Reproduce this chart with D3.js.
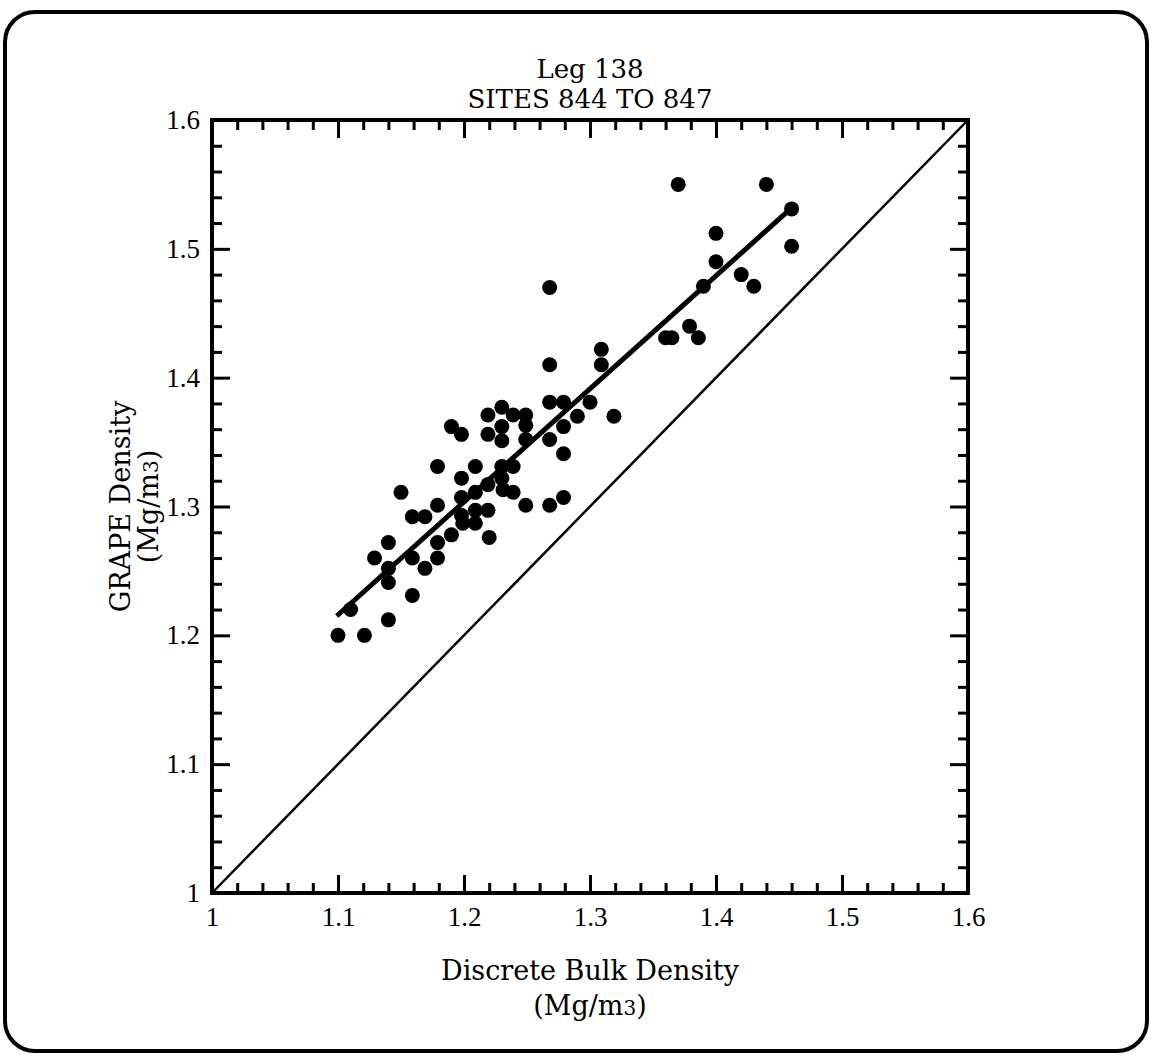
<!DOCTYPE html>
<html>
<head>
<meta charset="utf-8">
<script src="https://cdn.jsdelivr.net/npm/d3@7"></script>
<style>
  html, body { margin: 0; padding: 0; background: #fff; }
  svg { display: block; }
  text { font-family: "DejaVu Serif", "Liberation Serif", serif; fill: #000; }
</style>
</head>
<body>
<div id="chart"></div>
<script>
// Discrete bulk density vs GRAPE density, Leg 138 sites 844-847
const bulkDensity = [
  1.100, 1.121, 1.110, 1.140, 1.159, 1.140, 1.140, 1.129, 1.140, 1.169,
  1.159, 1.179, 1.179, 1.190, 1.220, 1.199, 1.209, 1.198, 1.209, 1.219,
  1.159, 1.169, 1.150, 1.179, 1.198, 1.209, 1.219, 1.231, 1.239, 1.198,
  1.230, 1.179, 1.209, 1.230, 1.239, 1.190, 1.198, 1.219, 1.230, 1.230,
  1.219, 1.230, 1.239, 1.249, 1.249, 1.249, 1.249, 1.268, 1.279, 1.279,
  1.268, 1.279, 1.290, 1.319, 1.268, 1.279, 1.300, 1.268, 1.309, 1.309,
  1.268, 1.360, 1.365, 1.386, 1.379, 1.390, 1.430, 1.420, 1.400, 1.400,
  1.460, 1.460, 1.370, 1.440
];
const grapeDensity = [
  1.200, 1.200, 1.220, 1.212, 1.231, 1.241, 1.252, 1.260, 1.272, 1.252,
  1.260, 1.260, 1.272, 1.278, 1.276, 1.287, 1.287, 1.293, 1.297, 1.297,
  1.292, 1.292, 1.311, 1.301, 1.307, 1.311, 1.317, 1.313, 1.311, 1.322,
  1.322, 1.331, 1.331, 1.331, 1.331, 1.362, 1.356, 1.356, 1.362, 1.351,
  1.371, 1.377, 1.371, 1.371, 1.363, 1.352, 1.301, 1.301, 1.307, 1.341,
  1.352, 1.362, 1.370, 1.370, 1.381, 1.381, 1.381, 1.410, 1.410, 1.422,
  1.470, 1.431, 1.431, 1.431, 1.440, 1.471, 1.471, 1.480, 1.490, 1.512,
  1.502, 1.531, 1.550, 1.550
];

// regression line end points and the 1:1 line
const fitLine = [[1.099, 1.215], [1.458, 1.530]];
const oneToOne = [[1.0, 1.0], [1.6, 1.6]];

const majorTicks = [1.0, 1.1, 1.2, 1.3, 1.4, 1.5, 1.6];
const minorTicks = [1.02, 1.04, 1.06, 1.08, 1.12, 1.14, 1.16, 1.18, 1.22, 1.24, 1.26, 1.28,
  1.32, 1.34, 1.36, 1.38, 1.42, 1.44, 1.46, 1.48, 1.52, 1.54, 1.56, 1.58];

const W = 1151, H = 1056;
const plot = { left: 212, right: 968, top: 120, bottom: 893 };

const svg = d3.select("#chart").append("svg")
  .attr("width", W)
  .attr("height", H);

// rounded outer frame
svg.append("rect")
  .attr("x", 5).attr("y", 12)
  .attr("width", W - 9).attr("height", H - 17)
  .attr("rx", 30).attr("ry", 30)
  .attr("fill", "none")
  .attr("stroke", "#000")
  .attr("stroke-width", 4);

const x = d3.scaleLinear().domain([1, 1.6]).range([plot.left, plot.right]);
const y = d3.scaleLinear().domain([1, 1.6]).range([plot.bottom, plot.top]);

const fmt = d => d === 1 ? "1" : d.toFixed(1);

// ---- axes (ticks point inward on all four sides)
function addAxis(axis, tx, ty, labels) {
  const g = svg.append("g")
    .attr("transform", `translate(${tx},${ty})`)
    .call(axis);
  g.select(".domain").remove();
  g.selectAll(".tick line").attr("stroke", "#000").attr("stroke-width", 3);
  if (!labels) g.selectAll(".tick text").remove();
  return g;
}

const majorLen = 18, minorLen = 10;

const xb = addAxis(d3.axisBottom(x).tickValues(majorTicks).tickSize(-majorLen).tickPadding(14).tickFormat(fmt), 0, plot.bottom, true);
addAxis(d3.axisBottom(x).tickValues(minorTicks).tickSize(-minorLen), 0, plot.bottom, false);
addAxis(d3.axisTop(x).tickValues(majorTicks).tickSize(-majorLen), 0, plot.top, false);
addAxis(d3.axisTop(x).tickValues(minorTicks).tickSize(-minorLen), 0, plot.top, false);

const yl = addAxis(d3.axisLeft(y).tickValues(majorTicks).tickSize(-majorLen).tickPadding(12).tickFormat(fmt), plot.left, 0, true);
addAxis(d3.axisLeft(y).tickValues(minorTicks).tickSize(-minorLen), plot.left, 0, false);
addAxis(d3.axisRight(y).tickValues(majorTicks).tickSize(-majorLen), plot.right, 0, false);
addAxis(d3.axisRight(y).tickValues(minorTicks).tickSize(-minorLen), plot.right, 0, false);

[xb, yl].forEach(g => g.selectAll(".tick text")
  .style("font-size", "27px")
  .style("font-family", "'Liberation Serif', serif")
  .attr("fill", "#000"));

// plot frame
svg.append("rect")
  .attr("x", plot.left).attr("y", plot.top)
  .attr("width", plot.right - plot.left)
  .attr("height", plot.bottom - plot.top)
  .attr("fill", "none")
  .attr("stroke", "#000")
  .attr("stroke-width", 4);

const line = d3.line().x(d => x(d[0])).y(d => y(d[1]));

// 1:1 line
svg.append("path")
  .attr("d", line(oneToOne))
  .attr("fill", "none")
  .attr("stroke", "#000")
  .attr("stroke-width", 2.5);

// regression line
svg.append("path")
  .attr("d", line(fitLine))
  .attr("fill", "none")
  .attr("stroke", "#000")
  .attr("stroke-width", 5);

// data points
svg.append("g")
  .selectAll("circle")
  .data(bulkDensity.map((b, i) => [b, grapeDensity[i]]))
  .join("circle")
  .attr("cx", d => x(d[0]))
  .attr("cy", d => y(d[1]))
  .attr("r", 7.5)
  .attr("fill", "#000");

// ---- titles
const cx = (plot.left + plot.right) / 2;
svg.append("text")
  .attr("x", cx).attr("y", 78)
  .attr("text-anchor", "middle")
  .style("font-size", "26px")
  .text("Leg 138");
svg.append("text")
  .attr("x", cx).attr("y", 108)
  .attr("text-anchor", "middle")
  .style("font-size", "26px")
  .text("SITES 844 TO 847");

// x axis title
svg.append("text")
  .attr("x", cx).attr("y", 980)
  .attr("text-anchor", "middle")
  .style("font-size", "27px")
  .text("Discrete Bulk Density");
const xu = svg.append("text")
  .attr("x", cx).attr("y", 1015)
  .attr("text-anchor", "middle")
  .style("font-size", "27px");
xu.append("tspan").text("(Mg/m");
xu.append("tspan").style("font-size", "20px").text("3");
xu.append("tspan").text(")");

// y axis title (rotated)
const cy = (plot.top + plot.bottom) / 2;
svg.append("text")
  .attr("transform", `translate(130,${cy}) rotate(-90)`)
  .attr("text-anchor", "middle")
  .style("font-size", "27px")
  .text("GRAPE Density");
const yu = svg.append("text")
  .attr("transform", `translate(158,${cy}) rotate(-90)`)
  .attr("text-anchor", "middle")
  .style("font-size", "27px");
yu.append("tspan").text("(Mg/m");
yu.append("tspan").style("font-size", "20px").text("3");
yu.append("tspan").text(")");
</script>
</body>
</html>
